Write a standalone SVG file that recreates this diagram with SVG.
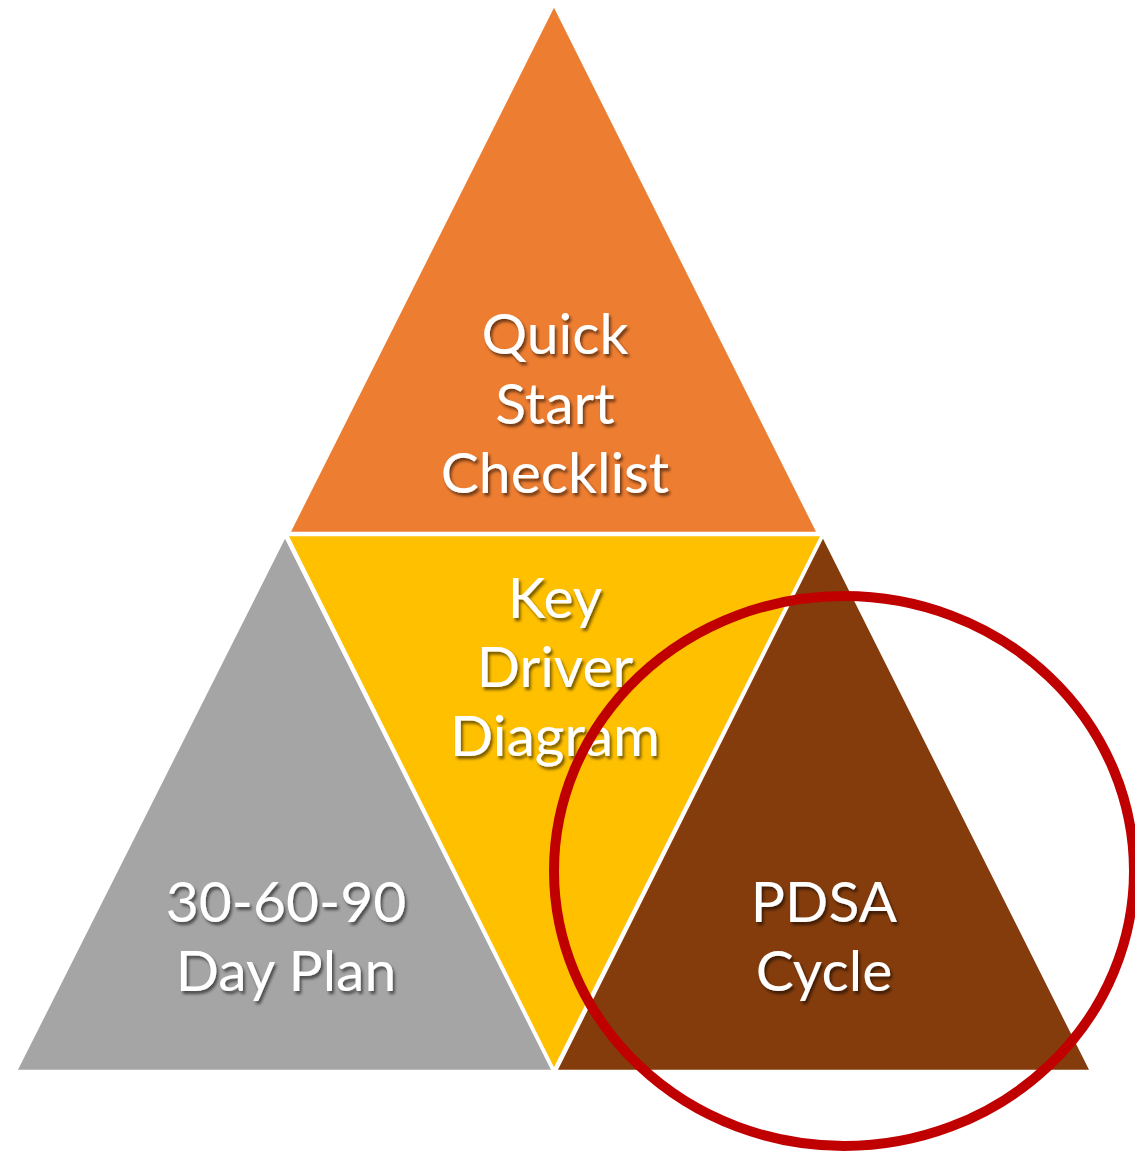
<svg xmlns="http://www.w3.org/2000/svg" width="1135" height="1156" viewBox="0 0 1135 1156">
<defs>
<filter id="sh" x="-10%" y="-10%" width="130%" height="140%">
<feDropShadow dx="2" dy="3" stdDeviation="1.8" flood-color="#000" flood-opacity="0.55"/>
</filter>
<style>
.tri{stroke:#fff;stroke-width:2.5;stroke-linejoin:miter}
.lbl{font-family:Lato,"Open Sans","Liberation Sans",sans-serif;font-size:57px;fill:#fff;text-anchor:middle;filter:url(#sh)}
</style>
</defs>
<rect width="1135" height="1156" fill="#fff"/>
<g id="node-top">
<polygon class="tri" points="554,5 818,533 289,533" fill="#ED7D31"/>
<text class="lbl" x="555" y="354">Quick</text>
<text class="lbl" x="555" y="424">Start</text>
<text class="lbl" x="555" y="493">Checklist</text>
</g>
<g id="node-left">
<polygon class="tri" points="285,536 553,1071 16,1071" fill="#A5A5A5"/>
<text class="lbl" x="286" y="922">30-60-90</text>
<text class="lbl" x="286" y="991">Day Plan</text>
</g>
<g id="node-right">
<polygon class="tri" points="823,536 1091,1071 556,1071" fill="#843C0C"/>
<text class="lbl" x="824" y="922">PDSA</text>
<text class="lbl" x="824" y="991">Cycle</text>
</g>
<g id="node-middle">
<polygon class="tri" points="287,535 822,535 554,1070" fill="#FFC000"/>
<text class="lbl" x="555" y="618">Key</text>
<text class="lbl" x="555" y="687">Driver</text>
<text class="lbl" x="555" y="756">Diagram</text>
</g>
<g id="highlight">
<ellipse cx="844" cy="871" rx="290" ry="275" fill="none" stroke="#C00000" stroke-width="10"/>
</g>
</svg>
